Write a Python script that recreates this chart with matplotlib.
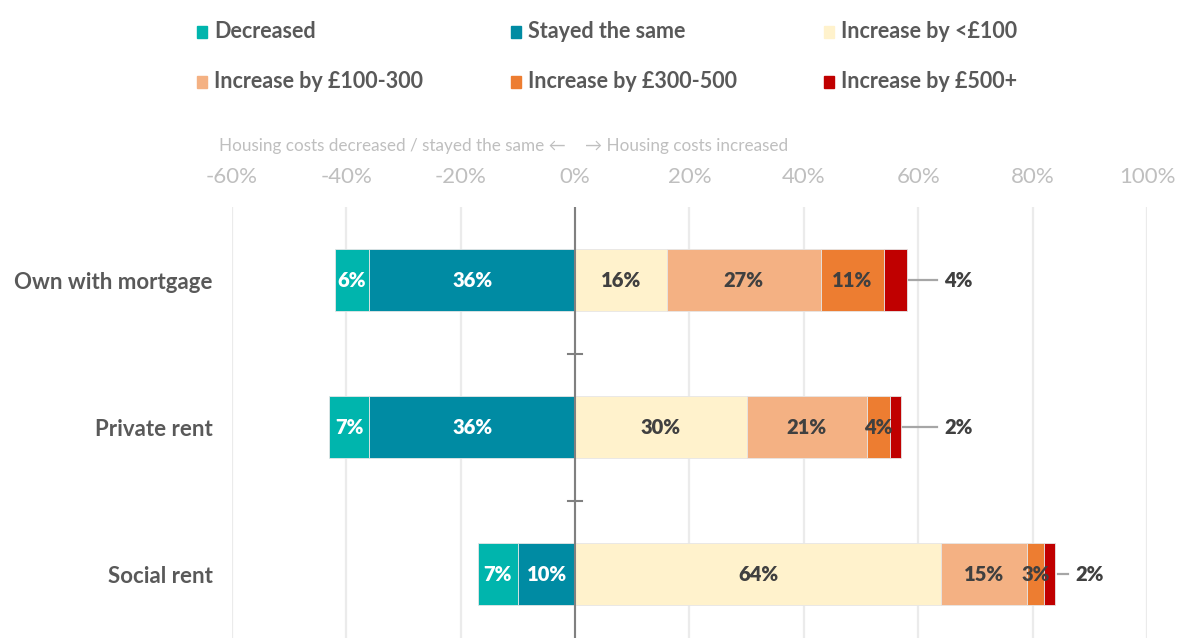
import matplotlib.pyplot as plt
import numpy as np

plt.rcParams['font.family'] = ['Lato', 'DejaVu Sans']

# data (% of households)
tenures = ['Own with mortgage', 'Private rent', 'Social rent']
decreased = [6, 7, 7]
stayed_same = [36, 36, 10]
inc_lt100 = [16, 30, 64]
inc_100_300 = [27, 21, 15]
inc_300_500 = [11, 4, 3]
inc_500_plus = [4, 2, 2]

series_names = ['Decreased', 'Stayed the same', 'Increase by <£100',
                'Increase by £100-300', 'Increase by £300-500', 'Increase by £500+']
colors = ['#00B5AD', '#008BA3', '#FFF2CC', '#F4B183', '#ED7D31', '#C00000']
label_colors = ['white', 'white', '#404040', '#404040', '#404040', '#404040']

xticks = [-60, -40, -20, 0, 20, 40, 60, 80, 100]
callout_offset = [6.5, 7.5, 3.5]

fig = plt.figure(figsize=(11.77, 6.38), dpi=100)
ax = fig.add_axes([0.1971, 0.0, 0.7774, 0.6763])

y = np.arange(len(tenures))
h = 0.42
lab_size = 14.5

# negative side: "stayed the same" next to zero, "decreased" outside it
left_parts = [(stayed_same, 1), (decreased, 0)]
start = np.zeros(len(tenures))
for vals, ci in left_parts:
    vals = np.array(vals, dtype=float)
    ax.barh(y, -vals, left=-start, height=h, color=colors[ci],
            edgecolor='#E6E6E6', linewidth=0.6, zorder=3)
    for yi, s, v in zip(y, start, vals):
        ax.text(-(s + v / 2), yi, f'{v:.0f}%', ha='center', va='center',
                fontsize=lab_size, fontweight='heavy', color=label_colors[ci], zorder=5)
    start = start + vals

# positive side
right_parts = [inc_lt100, inc_100_300, inc_300_500, inc_500_plus]
start = np.zeros(len(tenures))
for k, vals in enumerate(right_parts):
    ci = k + 2
    vals = np.array(vals, dtype=float)
    ax.barh(y, vals, left=start, height=h, color=colors[ci],
            edgecolor='#E6E6E6', linewidth=0.6, zorder=3)
    for yi, s, v in zip(y, start, vals):
        if ci == 5:
            end = s + v
            off = callout_offset[yi]
            ax.plot([end + 0.4, end + off - 1.3], [yi, yi], color='#A6A6A6',
                    linewidth=1.6, zorder=4)
            ax.text(end + off, yi, f'{v:.0f}%', ha='left', va='center',
                    fontsize=lab_size, fontweight='heavy', color='#404040', zorder=5)
        else:
            ax.text(s + v / 2, yi, f'{v:.0f}%', ha='center', va='center',
                    fontsize=lab_size, fontweight='heavy', color=label_colors[ci], zorder=5)
    start = start + vals

# centre line with category separators
ax.axvline(0, color='#808080', linewidth=1.5, zorder=4)
for b in [0.5, 1.5]:
    ax.plot([-1.2, 1.2], [b, b], color='#808080', linewidth=1.5, zorder=4)

ax.set_xlim(-60, 100)
ax.set_ylim(2.435, -0.5)
ax.set_xticks(xticks)
ax.set_xticklabels([f'{t}%' for t in xticks])
ax.xaxis.tick_top()
ax.tick_params(axis='x', length=0, pad=14, labelsize=16, labelcolor='#BFBFBF')
ax.set_yticks(y)
ax.set_yticklabels(tenures)
ax.tick_params(axis='y', length=0, pad=14, labelsize=16, labelcolor='#595959')
for lbl in ax.get_yticklabels():
    lbl.set_fontweight('bold')
ax.grid(axis='x', color='#EBEBEB', linewidth=1.6, zorder=0)
ax.set_axisbelow(True)
for sp in ax.spines.values():
    sp.set_visible(False)

# direction captions above the axis
ax.text(-1.7, -0.915, 'Housing costs decreased / stayed the same \u2190', ha='right',
        va='center', fontsize=12.3, color='#BFBFBF', family=['Lato', 'DejaVu Sans'])
ax.text(1.7, -0.915, '\u2192 Housing costs increased', ha='left',
        va='center', fontsize=12.3, color='#BFBFBF', family=['Lato', 'DejaVu Sans'])

# legend, 2 rows x 3 columns
leg_x = [197, 511, 824]
leg_y = [32, 82]
W, H = 1177, 638
for i, (name, c) in enumerate(zip(series_names, colors)):
    px = leg_x[i % 3]
    py = leg_y[i // 3]
    fig.patches.append(plt.Rectangle((px / W, 1 - (py + 6) / H), 10 / W, 12 / H,
                                     color=c, transform=fig.transFigure, figure=fig))
    fig.text((px + 17) / W, 1 - py / H, name, ha='left', va='center',
             fontsize=15.5, fontweight='bold', color='#595959')

fig.savefig('out.png', dpi=100)
